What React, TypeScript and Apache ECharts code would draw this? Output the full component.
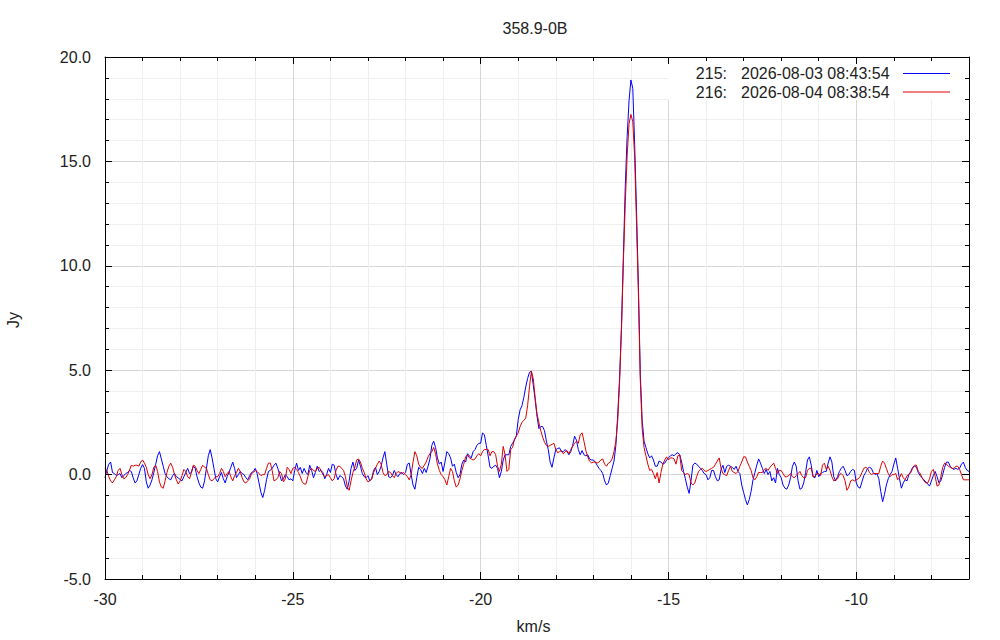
import React, { useEffect, useRef } from "react";
import * as echarts from "echarts";

const TITLE = "358.9-0B";
const X_NAME = "km/s";
const Y_NAME = "Jy";
const SCAN_IDS = ["215:", "216:"];
const SCAN_TIMES = ["2026-08-03 08:43:54", "2026-08-04 08:38:54"];
const SCAN_COLORS = ["#0000ff", "#dd0000"];
const X_MIN = -30;
const X_MAX = -7;
const Y_MIN = -5;
const Y_MAX = 20;

// channel velocity grid (km/s)
const V_START = -30;
const V_STEP = 0.05;

// scan 215 flux density (Jy), one row per km/s
const spec215 = [
  -0.15, 0.2, 0.5, 0.6, 0.1, 0.05, -0.05, 0.0, 0.05, -0.15, -0.05, 0.05, 0.1, 0.2, 0.15, -0.15, -0.4, -0.3, 0.0, 0.3,
  0.48, 0.3, -0.35, -0.65, -0.5, -0.25, 0.1, 0.5, 0.9, 1.1, 0.75, 0.4, 0.05, -0.1, -0.2, -0.25, -0.05, 0.05, -0.1, -0.15,
  -0.25, -0.3, -0.1, 0.1, 0.3, 0.05, 0.1, 0.4, 0.3, -0.1, -0.4, -0.6, -0.65, -0.3, 0.3, 0.9, 1.2, 0.8, 0.3, -0.2,
  -0.35, -0.1, 0.1, -0.2, -0.4, -0.1, 0.1, 0.35, 0.6, 0.3, -0.15, 0.0, 0.15, 0.05, 0.0, -0.15, -0.25, -0.05, 0.1, 0.15,
  0.3, 0.05, -0.4, -0.85, -1.1, -0.75, -0.25, 0.15, 0.2, 0.3, 0.45, 0.55, 0.3, 0.0, -0.3, -0.2, 0.0, -0.1, -0.25, -0.2,
  -0.3, 0.2, 0.55, 0.2, 0.35, 0.05, 0.3, 0.1, 0.0, 0.45, 0.2, -0.15, 0.1, 0.4, 0.15, 0.2, 0.1, -0.2, 0.0, 0.3,
  0.1, 0.5, 0.45, 0.0, -0.25, -0.05, -0.1, -0.2, -0.55, -0.7, -0.3, 0.3, 0.6, 0.2, 0.3, 0.7, 0.4, 0.05, -0.1, -0.15,
  -0.05, -0.3, -0.2, 0.2, 0.35, 0.0, 0.15, 0.4, 0.8, 1.1, 0.5, -0.1, -0.15, -0.05, 0.2, 0.0, -0.1, 0.05, 0.1, 0.0,
  0.1, 0.5, 0.55, 0.0, -0.5, -0.7, -0.15, 0.35, 0.25, 0.05, 0.3, 0.1, 0.4, 0.75, 1.4, 1.6, 1.3, 0.8, 0.5, 0.6,
  0.15, 0.6, 1.1, 1.0, 0.8, 0.4, 0.5, 0.1, -0.15, 0.0, 0.5, 0.7, 0.6, 1.0, 0.9, 0.8, 1.1, 1.2, 1.4, 1.5,
  1.5, 2.0, 1.9, 1.4, 0.9, 0.35, 0.3, 0.4, 0.45, 0.3, -0.15, 0.15, 0.7, 0.95, 0.95, 0.95, 1.35, 1.5, 1.65, 1.85,
  2.64, 3.1, 3.3, 3.7, 4.2, 4.6, 4.9, 4.95, 4.3, 3.6, 2.8, 2.2, 2.3, 2.3, 2.1, 1.6, 1.2, 0.6, 0.35, 0.8,
  1.2, 1.25, 1.28, 1.1, 1.1, 1.2, 1.1, 0.95, 1.1, 1.4, 1.84, 1.65, 1.2, 0.95, 1.15, 0.95, 0.9, 0.95, 0.75, 0.7,
  0.7, 0.6, 0.45, 0.3, 0.2, 0.05, -0.3, -0.5, -0.4, -0.05, 0.3, 0.65, 1.4, 2.9, 4.7, 7.2, 10.5, 13.8, 16.2, 17.9,
  18.9, 18.5, 15.8, 12.6, 9.0, 4.8, 2.6, 1.6, 1.3, 1.0, 0.8, 0.9, 0.7, 0.4, 0.4, 0.65, 0.6, 0.5, 0.55, 0.7,
  0.8, 0.9, 0.95, 0.9, 1.0, 1.05, 0.95, 0.6, 0.15, -0.2, -0.6, -0.9, -0.3, 0.45, 0.55, 0.5, 0.4, 0.3, 0.2, 0.05,
  0.0, -0.25, -0.15, 0.2, 0.2, -0.1, -0.3, -0.25, 0.25, 0.45, 0.1, 0.4, 0.45, 0.4, 0.35, 0.25, 0.4, 0.15, 0.05, -0.5,
  -0.85, -1.2, -1.45, -1.2, -0.8, -0.25, 0.1, 0.45, 0.75, 0.55, 0.3, 0.05, 0.25, 0.0, 0.15, -0.3, -0.15, -0.4, 0.3, 0.0,
  -0.15, -0.5, -0.65, -0.7, -0.5, -0.15, 0.4, 0.6, 0.4, -0.3, -0.7, -0.65, -0.4, 0.1, 0.7, 0.85, 0.45, -0.1, -0.15, 0.2,
  -0.1, 0.05, 0.1, 0.15, 0.15, 0.55, 0.85, 0.6, -0.1, -0.3, -0.1, 0.15, 0.3, 0.4, 0.2, -0.05, 0.0, 0.15, 0.25, 0.2,
  -0.4, -0.6, -0.65, -0.35, -0.05, 0.1, 0.3, 0.35, 0.3, 0.1, 0.0, 0.05, -0.2, -0.8, -1.3, -0.95, -0.5, -0.2, 0.0, 0.15,
  0.5, 0.8, 0.3, -0.2, -0.65, -0.4, -0.25, -0.3, 0.0, 0.15, 0.35, 0.4, 0.35, 0.1, -0.05, -0.15, -0.25, -0.35, -0.45, -0.55,
  -0.3, -0.05, 0.15, -0.1, -0.4, -0.3, 0.0, 0.35, 0.6, 0.6, 0.4, 0.3, 0.25, 0.3, 0.25, 0.3, 0.5, 0.6, 0.35, 0.2, 0.15,
];

// scan 216 flux density (Jy), one row per km/s
const spec216 = [
  0.3, 0.2, -0.1, -0.3, -0.4, -0.25, -0.1, 0.2, 0.3, 0.0, -0.2, -0.15, 0.0, 0.2, 0.45, 0.4, 0.45, 0.45, 0.4, 0.6,
  0.7, 0.55, 0.35, 0.0, -0.2, 0.0, 0.35, 0.45, 0.15, -0.35, -0.6, -0.65, -0.3, 0.1, 0.4, 0.55, 0.35, 0.0, -0.25, -0.45,
  -0.3, -0.05, 0.25, 0.15, -0.1, -0.2, 0.1, 0.45, 0.4, 0.2, 0.05, 0.25, 0.45, 0.35, 0.3, 0.0, -0.25, -0.3, -0.2, -0.1,
  -0.1, 0.05, 0.3, 0.15, -0.1, 0.05, 0.15, -0.1, -0.3, -0.05, 0.1, 0.3, 0.15, -0.15, -0.35, -0.4, -0.3, -0.2, 0.05, 0.1,
  0.2, 0.15, 0.05, -0.05, 0.0, 0.0, 0.3, 0.55, 0.55, 0.2, -0.3, -0.25, -0.15, 0.15, 0.05, -0.35, -0.2, 0.35, 0.25, 0.05,
  0.3, 0.35, 0.25, 0.1, -0.1, -0.35, -0.45, -0.45, -0.1, 0.2, 0.3, 0.2, 0.15, 0.3, 0.35, 0.2, 0.0, -0.1, -0.05, 0.0,
  -0.15, -0.3, -0.2, 0.2, 0.4, 0.4, 0.3, 0.2, -0.1, -0.6, -0.75, -0.3, 0.1, 0.35, 0.7, 0.75, 0.6, 0.3, 0.1, -0.2,
  -0.35, -0.3, -0.2, 0.1, 0.3, 0.5, 0.65, 0.5, 0.1, -0.05, 0.0, 0.15, 0.1, -0.05, -0.15, 0.05, 0.15, 0.1, 0.05, 0.1,
  0.0, -0.1, -0.25, 0.0, 0.6, 1.1, 0.9, 0.5, 0.35, 0.3, 0.45, 0.6, 0.85, 1.0, 1.1, 1.3, 1.0, 0.5, 0.2, 0.0,
  -0.1, -0.25, -0.5, -0.1, 0.3, 0.15, -0.3, -0.6, -0.5, -0.2, 0.2, 0.5, 0.85, 0.95, 0.8, 0.75, 0.7, 0.75, 0.9, 1.0,
  0.9, 1.1, 1.2, 1.2, 1.2, 0.9, 1.1, 1.1, 0.95, 0.4, 0.15, 0.5, 1.35, 0.95, 0.15, 0.25, 1.2, 1.3, 1.7, 1.85,
  2.0, 2.3, 2.5, 2.6, 2.7, 3.3, 4.2, 4.95, 4.6, 3.7, 2.9, 2.5, 2.1, 1.8, 1.55, 1.4, 1.35, 1.4, 1.45, 1.5,
  1.2, 1.05, 1.1, 1.15, 1.0, 1.1, 1.15, 1.0, 1.2, 1.35, 1.5, 1.6, 1.5, 1.9, 2.0, 1.6, 1.15, 0.85, 0.64, 0.56,
  0.6, 0.6, 0.55, 0.6, 0.7, 0.75, 0.5, 0.4, 0.55, 0.6, 0.75, 1.1, 1.6, 2.6, 4.5, 7.0, 10.2, 13.0, 15.3, 16.8,
  17.25, 16.9, 15.2, 12.0, 8.6, 4.5, 2.2, 1.3, 0.9, 0.5, 0.2, 0.25, 0.05, -0.2, 0.1, -0.4, 0.1, 0.5, 0.7, 0.85,
  0.7, 0.8, 0.8, 0.75, 0.5, 0.9, 0.95, 0.2, 0.1, 0.0, 0.05, 0.0, -0.4, -0.5, -0.4, -0.1, 0.15, 0.25, 0.3, 0.2,
  0.15, 0.2, 0.25, 0.3, 0.35, 0.5, 0.65, 0.8, 0.3, 0.05, 0.0, -0.05, 0.2, 0.4, 0.15, 0.1, 0.05, 0.15, 0.4, 0.6,
  0.85, 0.85, 0.6, 0.4, 0.2, -0.15, -0.25, -0.1, 0.1, 0.1, 0.1, 0.25, 0.3, 0.2, 0.35, 0.45, 0.55, 0.3, 0.05, 0.2,
  0.2, 0.05, -0.1, -0.1, -0.05, 0.05, -0.1, -0.15, -0.05, 0.05, 0.15, -0.05, -0.15, -0.15, 0.2, 0.3, 0.3, -0.1, -0.1, 0.05,
  0.05, -0.05, 0.45, 0.55, 0.25, 0.4, 0.2, -0.1, -0.3, -0.25, -0.2, 0.0, 0.05, -0.05, -0.3, -0.75, -0.6, -0.3, -0.25, -0.3,
  -0.25, -0.2, -0.1, 0.1, 0.3, 0.35, 0.3, 0.1, 0.0, 0.05, 0.05, 0.05, 0.05, 0.4, 0.65, 0.55, 0.3, 0.05, -0.1, 0.0,
  0.0, 0.05, -0.25, -0.15, 0.05, -0.15, -0.25, -0.05, 0.0, 0.1, 0.3, 0.45, 0.45, 0.15, 0.05, -0.15, -0.3, -0.4, -0.4, -0.2,
  0.15, 0.25, -0.1, -0.55, -0.5, -0.1, 0.35, 0.55, 0.5, 0.4, 0.35, 0.3, 0.3, 0.4, 0.4, 0.25, 0.0, -0.25, -0.25, -0.25, -0.25,
];

const FONT = "'Liberation Sans', Arial, Helvetica, sans-serif";
const TEXT_COLOR = "#222222";
const FONT_SIZE = 16;

const toPairs = (vals: number[]) =>
  vals.map((y, i) => [Math.round((V_START + i * V_STEP) * 100) / 100, y]);

const GRID_BOX = { left: 105, right: 31, top: 57, bottom: 61 };

function buildOption() {
  const noAxisParts = {
    axisLine: { show: false, onZero: false },
    axisTick: { show: false },
    axisLabel: { show: false },
  };
  const xBase = { type: "value", min: X_MIN, max: X_MAX };
  const yBase = { type: "value", min: Y_MIN, max: Y_MAX, interval: 5 };
  const blackLine = { color: "#000000", width: 1 };

  const xAxis = [
    // grid 0: split lines only
    {
      ...xBase, gridIndex: 0, position: "bottom", interval: 1, z: 0, ...noAxisParts,
      splitLine: { show: true, lineStyle: { color: "#efefef", width: 1 } },
    },
    {
      ...xBase, gridIndex: 0, position: "top", interval: 5, z: 1, ...noAxisParts,
      splitLine: { show: true, lineStyle: { color: "#d6d6d6", width: 1 } },
    },
    // grid 1: minor ticks + frame, series axes
    {
      ...xBase, gridIndex: 1, position: "bottom", interval: 1, z: 5,
      axisLine: { show: true, onZero: false, lineStyle: blackLine },
      axisTick: { show: true, inside: true, length: 4, lineStyle: blackLine },
      axisLabel: { show: false },
      splitLine: { show: false },
    },
    {
      ...xBase, gridIndex: 1, position: "top", interval: 1, z: 5,
      axisLine: { show: true, onZero: false, lineStyle: blackLine },
      axisTick: { show: true, inside: true, length: 4, lineStyle: blackLine },
      axisLabel: { show: false },
      splitLine: { show: false },
    },
    // grid 2: major ticks + labels
    {
      ...xBase, gridIndex: 2, position: "bottom", interval: 5, z: 5,
      axisLine: { show: false, onZero: false },
      axisTick: { show: true, inside: true, length: 7, lineStyle: blackLine },
      axisLabel: {
        show: true, margin: 12, color: TEXT_COLOR, fontSize: FONT_SIZE, fontFamily: FONT,
        showMaxLabel: false,
      },
      splitLine: { show: false },
    },
    {
      ...xBase, gridIndex: 2, position: "top", interval: 5, z: 5,
      axisLine: { show: false, onZero: false },
      axisTick: { show: true, inside: true, length: 7, lineStyle: blackLine },
      axisLabel: { show: false },
      splitLine: { show: false },
    },
  ];

  const yAxis = [
    {
      ...yBase, gridIndex: 0, position: "left", z: 0, ...noAxisParts,
      minorTick: { show: false, splitNumber: 5 },
      splitLine: { show: true, lineStyle: { color: "#d6d6d6", width: 1 } },
      minorSplitLine: { show: true, lineStyle: { color: "#efefef", width: 1 } },
    },
    {
      ...yBase, gridIndex: 1, position: "left", z: 5,
      axisLine: { show: true, onZero: false, lineStyle: blackLine },
      axisTick: { show: true, inside: true, length: 7, lineStyle: blackLine },
      minorTick: { show: true, splitNumber: 5, length: 4, lineStyle: blackLine },
      axisLabel: {
        show: true, margin: 14, color: TEXT_COLOR, fontSize: FONT_SIZE, fontFamily: FONT,
        formatter: (v: number) => v.toFixed(1),
      },
      splitLine: { show: false },
    },
    {
      ...yBase, gridIndex: 1, position: "right", z: 5,
      axisLine: { show: true, onZero: false, lineStyle: blackLine },
      axisTick: { show: true, inside: true, length: 7, lineStyle: blackLine },
      minorTick: { show: true, splitNumber: 5, length: 4, lineStyle: blackLine },
      axisLabel: { show: false },
      splitLine: { show: false },
    },
    { ...yBase, gridIndex: 2, position: "left", show: false },
  ];

  const series = [spec215, spec216].map((vals, k) => ({
    type: "line",
    name: SCAN_IDS[k] + " " + SCAN_TIMES[k],
    xAxisIndex: 2,
    yAxisIndex: 1,
    data: toPairs(vals),
    showSymbol: false,
    symbol: "none",
    silent: true,
    z: 4,
    lineStyle: { color: SCAN_COLORS[k], width: 1 },
    itemStyle: { color: SCAN_COLORS[k] },
  }));

  const textStyle = (extra: any) => ({
    fill: TEXT_COLOR,
    fontSize: FONT_SIZE,
    fontFamily: FONT,
    ...extra,
  });

  const keyRows = SCAN_IDS.map((id, k) => {
    const y = 73.5 + k * 18.5;
    return [
      { type: "text", x: 727, y, z: 6, style: textStyle({ text: id, textAlign: "right", textVerticalAlign: "middle" }) },
      { type: "text", x: 741, y, z: 6, style: textStyle({ text: SCAN_TIMES[k], textAlign: "left", textVerticalAlign: "middle" }) },
      { type: "line", z: 6, shape: { x1: 903, y1: y, x2: 950, y2: y }, style: { stroke: SCAN_COLORS[k], lineWidth: 1 } },
    ];
  }).flat();

  const graphic = [
    { type: "rect", z: 3, shape: { x: 668, y: 57.5, width: 300.5, height: 42.5 }, style: { fill: "#ffffff" } },
    { type: "text", x: 535, y: 28, z: 6, style: textStyle({ text: TITLE, textAlign: "center", textVerticalAlign: "middle" }) },
    { type: "text", x: 533.5, y: 626, z: 6, style: textStyle({ text: X_NAME, textAlign: "center", textVerticalAlign: "middle" }) },
    { type: "text", x: 13, y: 320, z: 6, rotation: Math.PI / 2, style: textStyle({ text: Y_NAME, textAlign: "center", textVerticalAlign: "middle" }) },
    ...keyRows,
  ];

  return {
    animation: false,
    backgroundColor: "#ffffff",
    grid: [GRID_BOX, GRID_BOX, GRID_BOX].map((g) => ({ ...g, containLabel: false, show: false })),
    xAxis,
    yAxis,
    series,
    graphic,
  };
}

export default function App() {
  const ref = useRef<HTMLDivElement | null>(null);
  useEffect(() => {
    document.body.style.margin = "0";
    if (!ref.current) return;
    const chart = echarts.init(ref.current, undefined, { renderer: "svg" });
    chart.setOption(buildOption() as any);
    return () => chart.dispose();
  }, []);
  return <div ref={ref} style={{ width: 1000, height: 640 }} />;
}
